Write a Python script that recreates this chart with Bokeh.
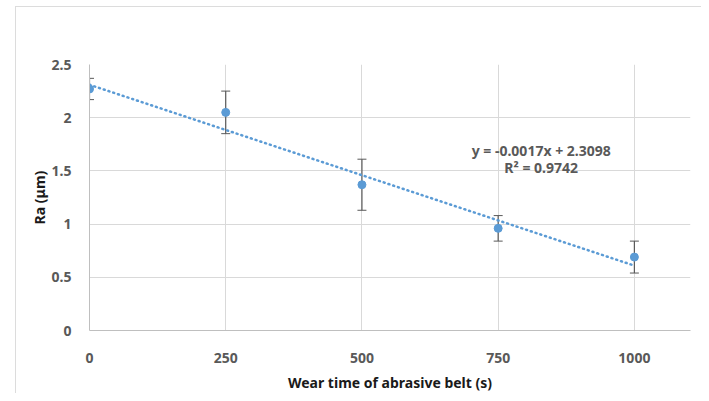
from bokeh.plotting import figure
from bokeh.models import ColumnDataSource, Whisker, Range1d, FixedTicker
from bokeh.embed import file_html
from bokeh.resources import INLINE
from bokeh.core.properties import value

# Data
wear_time = [0, 250, 500, 750, 1000]
ra_mean = [2.27, 2.05, 1.37, 0.96, 0.69]
ra_err = [0.10, 0.20, 0.24, 0.12, 0.15]
trend_x = [0, 1000]
trend_y = [2.3098, 0.6098]
eq_labels = ["y = -0.0017x + 2.3098", "R\u00b2 = 0.9742"]
eq_x = [829, 829]
eq_y = [1.694, 1.528]
x_ticks = [0, 250, 500, 750, 1000]
y_ticks = [0, 0.5, 1, 1.5, 2, 2.5]

FONT = "Noto Sans"
GREY = "#595959"
BLUE = "#5b9bd5"

p = figure(width=686, height=387, output_backend="svg", toolbar_location=None,
           x_range=Range1d(0, 1103), y_range=Range1d(0, 2.5),
           min_border_left=73, min_border_right=12, min_border_top=57, min_border_bottom=59)
p.margin = (6, 0, 0, 15)
p.styles = {"border-left": "1px solid #dcdcdc", "border-top": "1px solid #dcdcdc"}
p.outline_line_color = None
p.background_fill_color = "white"
p.border_fill_color = "white"

p.xaxis.ticker = FixedTicker(ticks=x_ticks)
p.yaxis.ticker = FixedTicker(ticks=y_ticks)
p.yaxis.formatter.use_scientific = False

for ax in (p.xaxis, p.yaxis):
    ax.major_tick_line_color = None
    ax.minor_tick_line_color = None
    ax.axis_line_color = "#bfbfbf"
    ax.major_label_text_font = FONT
    ax.major_label_text_font_size = "14px"
    ax.major_label_text_font_style = "bold"
    ax.major_label_text_color = GREY
    ax.axis_label_text_font = FONT
    ax.axis_label_text_font_size = "14px"
    ax.axis_label_text_font_style = "bold"
    ax.axis_label_text_color = "#1a1a1a"

p.xaxis.axis_label = "Wear time of abrasive belt (s)"
p.yaxis.axis_label = "Ra (\u03bcm)"
p.xaxis.major_label_standoff = 16
p.yaxis.major_label_standoff = 12
p.xaxis.axis_label_standoff = 7
p.yaxis.axis_label_standoff = 0

p.xgrid.grid_line_color = "#d9d9d9"
p.ygrid.grid_line_color = "#d9d9d9"
p.xgrid.ticker = FixedTicker(ticks=x_ticks)
p.ygrid.ticker = FixedTicker(ticks=y_ticks)

src = ColumnDataSource(dict(
    x=wear_time, y=ra_mean,
    upper=[m + e for m, e in zip(ra_mean, ra_err)],
    lower=[m - e for m, e in zip(ra_mean, ra_err)],
))

p.line(trend_x, trend_y, line_color=BLUE, line_width=2.5, line_dash="1 4", line_cap="round")

w = Whisker(source=src, base="x", upper="upper", lower="lower",
            line_color=GREY, line_width=1.2)
w.upper_head.size = 9
w.lower_head.size = 9
w.upper_head.line_color = GREY
w.lower_head.line_color = GREY
p.add_layout(w)

p.scatter("x", "y", source=src, size=8, fill_color=BLUE, line_color=BLUE)

p.text(x=eq_x, y=eq_y, text=eq_labels, text_font=value(FONT), text_font_size="14px",
       text_font_style="bold", text_color=GREY, text_align="center", text_baseline="middle")

open("out.html", "w").write(file_html(p, INLINE))
